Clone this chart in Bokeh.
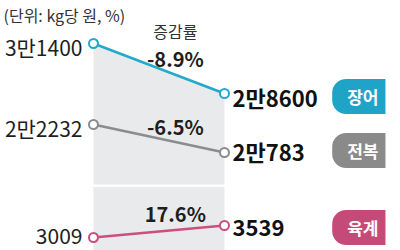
from bokeh.plotting import figure
from bokeh.models import Range1d, Span, Label
from bokeh.core.properties import value
from bokeh.embed import file_html
from bokeh.resources import INLINE

# ---- data ----
periods = [0, 1]
species = ["장어", "전복", "육계"]
eel = [31400, 28600]
abalone = [22232, 20783]
chicken = [3009, 3539]
eel_labels = ["3만1400", "2만8600"]
abalone_labels = ["2만2232", "2만783"]
chicken_labels = ["3009", "3539"]
changes = ["-8.9%", "-6.5%", "17.6%"]
unit_note = "(단위: kg당 원, %)"
change_title = "증감률"

FONT = "Noto Sans CJK KR"
colors = ["#1fa4c8", "#8a8a8a", "#c44a78"]
line_colors = ["#22a9cc", "#8c8c8c", "#c9507e"]

p = figure(width=400, height=250, output_backend="svg", toolbar_location=None,
           x_range=Range1d(-0.710, 2.344), y_range=Range1d(19808, 33808),
           min_border=0, min_border_left=0, min_border_right=0,
           min_border_top=0, min_border_bottom=0)
p.extra_y_ranges = {"abalone": Range1d(15711.5, 28649), "chicken": Range1d(2434.8, 13476.5)}
p.axis.visible = False
p.xgrid.visible = False
p.ygrid.visible = False
p.outline_line_color = None
p.background_fill_color = "white"
p.border_fill_color = "white"

# shaded area under the top line
p.varea(x=periods, y1=[p.y_range.start] * 2, y2=eel, fill_color="#e9eaeb")
# axis break
p.add_layout(Span(location=5300, dimension="width", line_color="white", line_width=2.5,
                  y_range_name="chicken"))

series = [(eel, eel_labels, "default"), (abalone, abalone_labels, "abalone"),
          (chicken, chicken_labels, "chicken")]
left_off = [3, 3, -1]
right_off = [3, -2, 2]

for i, (vals, labs, rn) in enumerate(series):
    p.line(periods, vals, line_color=line_colors[i], line_width=2.5, y_range_name=rn)
    p.scatter(periods, vals, size=9, fill_color="white", line_color=line_colors[i],
              line_width=2, y_range_name=rn)
    p.text(x=[periods[0]], y=[vals[0]], text=[labs[0]], y_range_name=rn,
           x_offset=-11, y_offset=left_off[i], text_align="right", text_baseline="middle",
           text_font=value(FONT), text_font_size="21px", text_color="#1e1e1e")
    p.text(x=[periods[1]], y=[vals[1]], text=[labs[1]], y_range_name=rn,
           x_offset=8, y_offset=right_off[i], text_align="left", text_baseline="middle",
           text_font=value(FONT), text_font_size="22px", text_font_style="bold",
           text_color="#111111")
    p.text(x=[periods[1]], y=[vals[1]], text=[species[i]], y_range_name=rn,
           x_offset=161, y_offset=right_off[i], text_align="right", text_baseline="middle",
           text_font=value(FONT), text_font_size="17px", text_font_style="bold",
           text_color="white", background_fill_color=colors[i],
           padding=dict(left=15, right=7, top=5, bottom=5),
           border_radius=dict(top_left=14, top_right=0, bottom_right=0, bottom_left=14))
    t = 0.625
    ymid = vals[0] + t * (vals[1] - vals[0])
    p.text(x=[t], y=[ymid], text=[changes[i]], y_range_name=rn,
           y_offset=-16, text_align="center", text_baseline="middle",
           text_font=value(FONT), text_font_size="20px", text_font_style="bold",
           text_color="#1e1e1e")
    if i == 0:
        p.text(x=[t], y=[ymid], text=[change_title], y_offset=-44,
               text_align="center", text_baseline="middle",
               text_font=value(FONT), text_font_size="16px", text_color="#333333")

p.add_layout(Label(x=3, y=236, x_units="screen", y_units="screen", text=unit_note,
                   text_baseline="middle", text_font=FONT, text_font_size="16px",
                   text_color="#333333"))

open("out.html", "w").write(file_html(p, INLINE))
